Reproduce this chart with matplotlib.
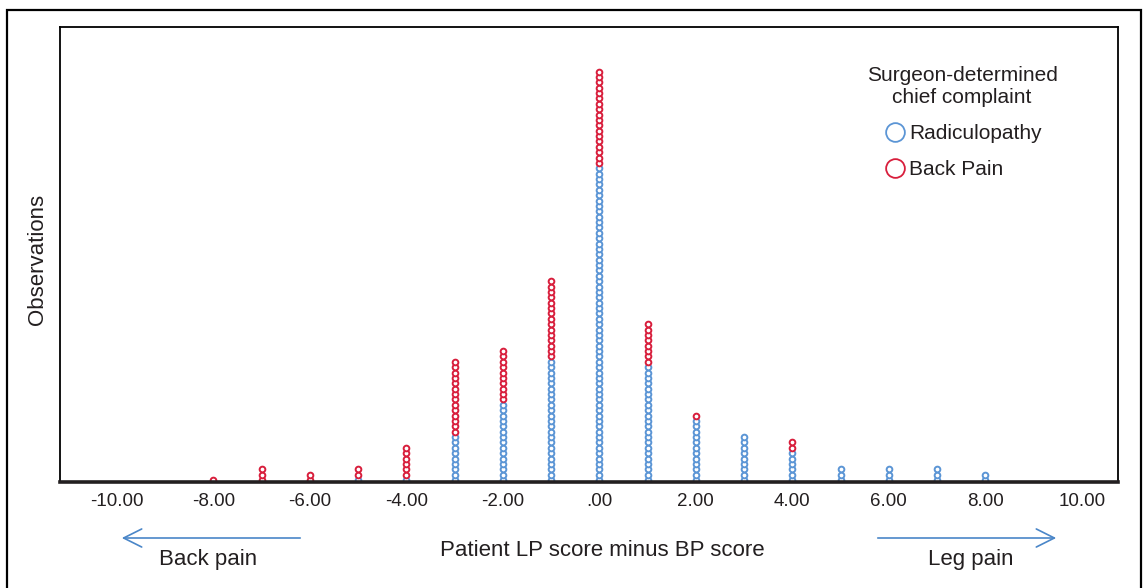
import matplotlib
matplotlib.use('Agg')
import matplotlib.pyplot as plt
from matplotlib.lines import Line2D
from matplotlib.patches import Rectangle, FancyArrowPatch

plt.rcParams['font.family'] = ['Liberation Sans', 'DejaVu Sans']

# difference score (LP minus BP) and number of patients per group
scores = [-8, -7, -6, -5, -4, -3, -2, -1, 0, 1, 2, 3, 4, 5, 6, 7, 8]
radiculopathy = [0, 0, 0, 1, 1, 9, 15, 23, 59, 22, 12, 9, 6, 3, 3, 3, 2]
back_pain = [1, 3, 2, 2, 6, 14, 10, 15, 18, 8, 1, 0, 2, 0, 0, 0, 0]

tick_values = [-10, -8, -6, -4, -2, 0, 2, 4, 6, 8, 10]
tick_labels = ['-10.00', '-8.00', '-6.00', '-4.00', '-2.00', '.00',
               '2.00', '4.00', '6.00', '8.00', '10.00']

blue = '#5b95d5'
red = '#d81e3c'
ink = '#231f20'

W, H = 1145, 588
fig = plt.figure(figsize=(W / 100, H / 100), dpi=100)
ax = fig.add_axes([60 / W, 1 - 482 / H, (1118 - 60) / W, (482 - 27) / H])

# one open circle per observation, stacked upward
for x, nb, nr in zip(scores, radiculopathy, back_pain):
    if nb:
        ax.plot([x] * nb, range(nb), 'o', ms=4.1, mfc='white', mec=blue, mew=1.4, ls='none', zorder=2)
    if nr:
        ax.plot([x] * nr, range(nb, nb + nr), 'o', ms=4.1, mfc='white', mec=red, mew=1.4, ls='none', zorder=2)

ax.set_xlim(-11.18, 10.75)
ax.set_ylim(-0.37, 84.3)
ax.set_yticks([])
ax.set_xticks(tick_values)
ax.set_xticklabels(tick_labels, fontsize=13.5, color=ink)
ax.tick_params(axis='x', length=0, pad=8)
for s in ['left', 'top', 'right']:
    ax.spines[s].set_linewidth(1.3)
ax.spines['bottom'].set_linewidth(2.6)
ax.spines['bottom'].set_color(ink)
ax.spines['bottom'].set_zorder(3)

ax.set_ylabel('Observations', fontsize=16, color=ink, va='center')
ax.yaxis.set_label_coords(-(60 - 37) / 1058, (482 - 259) / 455)

# legend
handles = [Line2D([], [], marker='o', ls='none', ms=13.5, mfc='white', mec=blue, mew=1.3),
           Line2D([], [], marker='o', ls='none', ms=13.5, mfc='white', mec=red, mew=1.3)]
leg = ax.legend(handles, ['Radiculopathy', 'Back Pain'], title='Surgeon-determined\nchief complaint',
                loc='upper center', bbox_to_anchor=(962 / W, 1 - 58 / H), bbox_transform=fig.transFigure,
                frameon=False, fontsize=15, title_fontsize=15, handletextpad=0.1,
                labelspacing=0.82, handlelength=1.2, borderaxespad=0)
for t in leg.get_texts():
    t.set_color(ink)
leg.get_title().set_color(ink)
leg.get_title().set_multialignment('center')

# bottom annotations
fig.text(602 / W, 1 - 550 / H, 'Patient LP score minus BP score', fontsize=16,
         ha='center', va='center', color=ink)
fig.text(208 / W, 1 - 560 / H, 'Back pain', fontsize=16, ha='center', va='center', color=ink)
fig.text(971 / W, 1 - 560 / H, 'Leg pain', fontsize=16, ha='center', va='center', color=ink)

arrow_kw = dict(arrowstyle='->,head_length=1.0,head_width=0.5', color='#4a86c8', lw=1.2,
                mutation_scale=13, transform=fig.transFigure)
fig.add_artist(FancyArrowPatch((303 / W, 1 - 538 / H), (119 / W, 1 - 538 / H), **arrow_kw))
fig.add_artist(FancyArrowPatch((875 / W, 1 - 538 / H), (1059 / W, 1 - 538 / H), **arrow_kw))

# outer frame
fig.add_artist(Rectangle((7 / W, -0.05), (1141 - 7) / W, 1.05 - 10 / H, transform=fig.transFigure,
                         fill=False, lw=1.6, ec='black'))

fig.savefig('out.png', dpi=100)
